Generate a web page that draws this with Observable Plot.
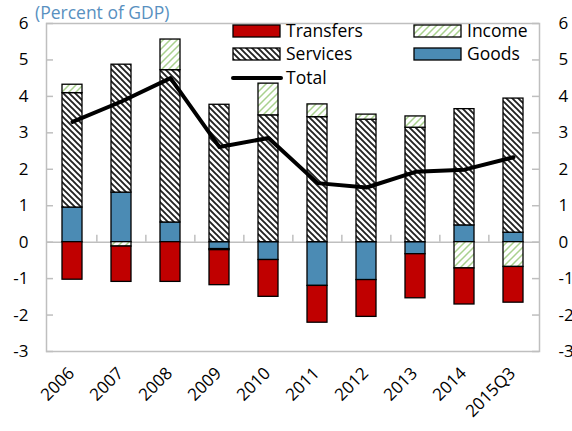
<!DOCTYPE html>
<html><head><meta charset="utf-8">
<script src="https://cdn.jsdelivr.net/npm/d3@7"></script>
<script src="https://cdn.jsdelivr.net/npm/@observablehq/plot@0.6"></script>
<style>body{margin:0;background:#fff} #chart{position:relative;width:572px;height:431px}</style>
</head><body><div id="chart"></div>
<script>
const categories = ["2006","2007","2008","2009","2010","2011","2012","2013","2014","2015Q3"];
const goods     = [0.95, 1.36, 0.54, -0.19, -0.49, -1.20, -1.04, -0.33, 0.46, 0.26];
const services  = [3.14, 3.51, 4.18, 3.77, 3.48, 3.43, 3.36, 3.14, 3.19, 3.68];
const income    = [0.23, -0.12, 0.84, -0.03, 0.87, 0.35, 0.14, 0.31, -0.72, -0.68];
const transfers = [-1.03, -0.97, -1.09, -0.96, -1.01, -1.01, -1.01, -1.21, -0.99, -0.98];
const total     = [3.30, 3.86, 4.50, 2.61, 2.86, 1.62, 1.50, 1.93, 1.99, 2.33];
const yTicks = [-3, -2, -1, 0, 1, 2, 3, 4, 5, 6];
const seriesNames = ["Goods", "Services", "Income", "Transfers"];
const seriesValues = {Goods: goods, Services: services, Income: income, Transfers: transfers};
const title = "(Percent of GDP)";

const rows = [];
categories.forEach((c, i) => seriesNames.forEach(s => rows.push({cat: c, series: s, value: seriesValues[s][i]})));
const lineRows = categories.map((c, i) => ({cat: c, value: total[i]}));

const W = 572, H = 431, mL = 46, mR = 33, mT = 23, mB = 80;
const step = (W - mL - mR) / categories.length;
const innerW = W - mL - mR;
const FONT = "'Open Sans', sans-serif";
const GRAY = "#bfbfbf";

const svg = Plot.plot({
  width: W, height: H, marginLeft: mL, marginRight: mR, marginTop: mT, marginBottom: mB,
  style: {fontFamily: FONT, fontSize: "17px", color: "#000", background: "#fff"},
  x: {domain: categories, paddingInner: 0.6, paddingOuter: 0.3, label: null},
  y: {domain: [-3, 6], label: null},
  color: {domain: seriesNames, range: ["#4B8BB4", "url(#hatchServices)", "url(#hatchIncome)", "#C00000"]},
  marks: [
    Plot.frame({stroke: GRAY, strokeWidth: 1.5}),
    Plot.ruleY([0], {stroke: GRAY, strokeWidth: 1.5}),
    Plot.tickY(yTicks, {y: d => d, insetRight: innerW - 7, stroke: GRAY, strokeWidth: 1.5}),
    Plot.tickY(yTicks, {y: d => d, insetLeft: innerW - 7, stroke: GRAY, strokeWidth: 1.5}),
    Plot.ruleX(categories.slice(1), {x: d => d, y1: 0, y2: 0.19, dx: -step / 2, stroke: GRAY, strokeWidth: 1.5}),
    Plot.barY(rows, Plot.stackY({order: seriesNames}, {x: "cat", y: "value", z: "series", fill: "series", stroke: "#000", strokeWidth: 1.3})),
    Plot.lineY(lineRows, {x: "cat", y: "value", stroke: "#000", strokeWidth: 4, strokeLinejoin: "round"}),
    Plot.axisY({anchor: "left", ticks: yTicks, tickSize: 0, tickPadding: 18, tickFormat: d => String(d), label: null}),
    Plot.axisY({anchor: "right", ticks: yTicks, tickSize: 0, tickPadding: 19, tickFormat: d => String(d), label: null}),
    Plot.axisX({anchor: "bottom", tickRotate: -45, tickSize: 0, tickPadding: 19, dx: -1, label: null})
  ]
});

const sel = d3.select(svg);
const defs = sel.insert("defs", ":first-child");
const ps = defs.append("pattern").attr("id", "hatchServices").attr("patternUnits", "userSpaceOnUse").attr("width", 6).attr("height", 6);
ps.append("rect").attr("width", 6).attr("height", 6).attr("fill", "#fff");
ps.append("path").attr("d", "M0,0L6,6M-1,5L1,7M5,-1L7,1").attr("stroke", "#222").attr("stroke-width", 1.9);
const pi = defs.append("pattern").attr("id", "hatchIncome").attr("patternUnits", "userSpaceOnUse").attr("width", 7).attr("height", 7);
pi.append("rect").attr("width", 7).attr("height", 7).attr("fill", "#fff");
pi.append("path").attr("d", "M0,7L7,0M-1,1L1,-1M6,8L8,6").attr("stroke", "#a9d18e").attr("stroke-width", 1.5);

sel.append("text").attr("x", 35).attr("y", 19).attr("text-anchor", "start")
  .attr("fill", "#5890c0").attr("font-size", 17.5).text(title);

const legend = [
  {name: "Transfers", x: 233, y: 25, kind: "rect", fill: "#C00000"},
  {name: "Income", x: 414, y: 25, kind: "rect", fill: "url(#hatchIncome)"},
  {name: "Services", x: 233, y: 48, kind: "rect", fill: "url(#hatchServices)"},
  {name: "Goods", x: 414, y: 48, kind: "rect", fill: "#4B8BB4"},
  {name: "Total", x: 233, y: 72, kind: "line"}
];
const lg = sel.append("g").attr("font-size", 17.5).attr("text-anchor", "start");
legend.forEach(d => {
  if (d.kind === "rect") lg.append("rect").attr("x", d.x).attr("y", d.y).attr("width", 47).attr("height", 12).attr("fill", d.fill).attr("stroke", "#000").attr("stroke-width", 1.3);
  else lg.append("line").attr("x1", d.x).attr("x2", d.x + 48).attr("y1", d.y + 6).attr("y2", d.y + 6).attr("stroke", "#000").attr("stroke-width", 4).attr("stroke-linecap", "round");
  lg.append("text").attr("x", d.x + 53).attr("y", d.y + 6).attr("dy", "0.36em").text(d.name);
});

document.getElementById("chart").appendChild(svg);
</script></body></html>
